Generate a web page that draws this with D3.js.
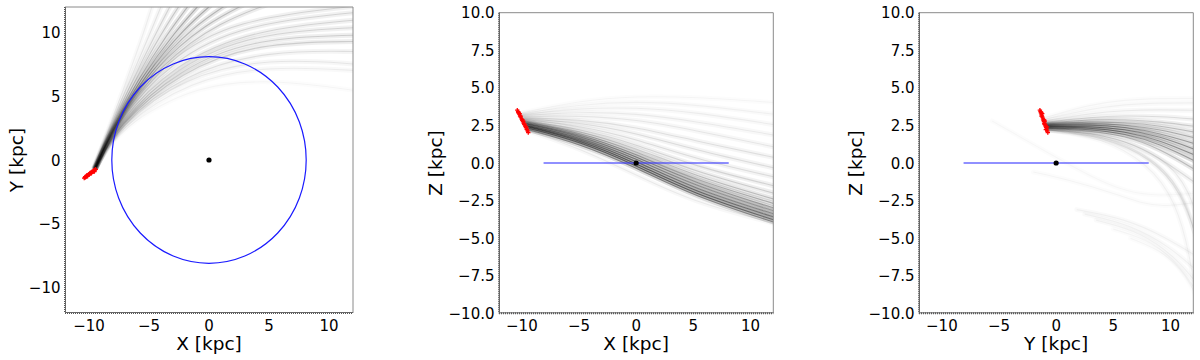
<!DOCTYPE html>
<html>
<head>
<meta charset="utf-8">
<script src="https://cdn.jsdelivr.net/npm/d3@7"></script>
<style>
  body { margin: 0; background: #fff; }
  text { font-family: "DejaVu Sans", sans-serif; fill: #000; }
</style>
</head>
<body>
<div id="content"></div>
<script>
// ---- data ----

// red "+" markers, [x, y, z] kpc
const stars = [
  [-10.40,-1.42,3.52],[-10.33,-1.37,3.42],[-10.28,-1.33,3.33],[-10.22,-1.29,3.25],
  [-10.16,-1.25,3.14],[-10.10,-1.20,3.05],[-10.03,-1.15,2.94],[-9.97,-1.12,2.85],
  [-9.90,-1.07,2.75],[-9.84,-1.02,2.65],[-9.78,-0.98,2.56],[-9.71,-0.93,2.46],
  [-9.64,-0.88,2.36],[-9.57,-0.83,2.25],[-9.50,-0.78,2.14],[-9.44,-0.73,2.03],
  [-10.30,-1.30,3.36],[-10.12,-1.27,3.12],[-9.95,-1.05,2.86],[-9.80,-1.05,2.60],
  [-9.62,-0.80,2.40],[-9.55,-0.90,2.22],[-10.20,-1.22,3.28],[-9.88,-0.99,2.78]
];

// sun circle radius (kpc)
const solarR = 8.1;

// X-Y projection of orbit tracks [x, y]
const xyTracks = [
  [[-9.6,-0.6],[-8.6,1.8],[-7.2,5.4],[-5.6,9.5],[-4.6,12.5]],
  [[-9.6,-0.6],[-8.5,2.0],[-6.9,5.6],[-5.0,9.7],[-3.8,12.5]],
  [[-9.55,-0.6],[-8.4,2.1],[-6.6,5.8],[-4.5,9.8],[-3.0,12.5]],
  [[-9.55,-0.6],[-8.3,2.2],[-6.3,6.0],[-4.0,9.9],[-2.2,12.5]],
  [[-9.5,-0.6],[-8.2,2.3],[-6.0,6.2],[-3.4,10.0],[-1.4,12.5]],
  [[-9.5,-0.6],[-8.1,2.4],[-5.7,6.4],[-2.8,10.1],[-0.5,12.5]],
  [[-9.5,-0.6],[-8.0,2.5],[-5.3,6.7],[-2.1,10.3],[0.6,12.5]],
  [[-9.45,-0.6],[-7.95,2.6],[-4.9,7.0],[-1.3,10.5],[2.0,12.5]],
  [[-9.45,-0.6],[-7.9,2.7],[-4.5,7.3],[-0.3,10.7],[3.6,12.5]],
  [[-9.45,-0.6],[-7.85,2.75],[-4.0,7.6],[1,10.9],[5.5,12.4]],
  [[-9.45,-0.6],[-7.8,2.8],[-3.5,7.9],[2,11.0],[12.5,12.1]],
  [[-9.45,-0.6],[-7.8,2.8],[-3.2,7.8],[3,10.7],[12.5,11.6]],
  [[-9.4,-0.6],[-7.75,2.8],[-2.9,7.6],[4,10.3],[12.5,11.0]],
  [[-9.4,-0.6],[-7.7,2.75],[-2.7,7.4],[4,10.0],[12.5,10.4]],
  [[-9.4,-0.6],[-7.7,2.7],[-2.5,7.2],[4,9.6],[12.5,9.8]],
  [[-9.4,-0.6],[-7.65,2.7],[-2.3,7.0],[4,9.2],[12.5,9.3]],
  [[-9.4,-0.6],[-7.6,2.65],[-2.1,6.8],[5,8.6],[12.5,8.5]],
  [[-9.4,-0.6],[-7.6,2.6],[-2.0,6.6],[5,8.0],[12.5,7.5]],
  [[-9.4,-0.6],[-7.55,2.55],[-1.5,6.3],[5,7.4],[12.5,7.0]],
  [[-9.4,-0.6],[-7.5,2.5],[-1,6.0],[6,6.3],[12.5,5.4]]
];
const xyWeight = [0.5,0.8,1.2,1.6,2.2,2.6,2.6,2.2,2,1.6,1.2,1.2,1.2,1.2,1.4,1.4,0.9,0.7,0.5,0.3];

// X-Z projection [x, z]
const xzTracks = [
  [[-9.35,2.2],[-5,1.3],[0,-0.3],[5,-2.2],[12.5,-4.05]],
  [[-9.4,2.3],[-5,1.45],[0,-0.15],[5,-2.05],[12.5,-3.9]],
  [[-9.45,2.4],[-5,1.55],[0,0],[5,-1.9],[12.5,-3.7]],
  [[-9.5,2.45],[-5,1.65],[0,0.15],[5,-1.7],[12.5,-3.5]],
  [[-9.55,2.5],[-5,1.75],[0,0.3],[5,-1.5],[12.5,-3.3]],
  [[-9.6,2.6],[-5,1.85],[0,0.45],[5,-1.3],[12.5,-3.1]],
  [[-9.65,2.65],[-5,1.95],[0,0.6],[5,-1.1],[12.5,-2.8]],
  [[-9.7,2.7],[-5,2.05],[0,0.8],[5,-0.85],[12.5,-2.5]],
  [[-9.75,2.75],[-5,2.15],[0,1.0],[5,-0.55],[12.5,-2.1]],
  [[-9.8,2.8],[-5,2.3],[0,1.25],[5,-0.2],[12.5,-1.6]],
  [[-9.85,2.9],[-5,2.5],[0,1.6],[5,0.3],[12.5,-1.0]],
  [[-9.9,2.95],[-5,2.7],[0,2.0],[5,0.9],[12.5,-0.4]],
  [[-9.95,3.0],[-5,2.9],[0,2.4],[5,1.5],[12.5,0.3]],
  [[-10.0,3.1],[-5,3.15],[0,2.9],[5,2.2],[12.5,1.0]],
  [[-10.05,3.15],[-5,3.4],[0,3.3],[5,2.8],[12.5,1.8]],
  [[-10.1,3.2],[-5,3.65],[0,3.7],[5,3.4],[12.5,2.5]],
  [[-10.15,3.25],[-5,3.9],[0,4.1],[5,3.9],[12.5,3.2]],
  [[-10.2,3.3],[-5,4.15],[0,4.45],[5,4.4],[12.5,4.0]],
  [[-9.3,2.1],[-5,1.0],[0,-0.8],[5,-2.6],[12.5,-4.1]]
];
const xzWeight = [3,4,4,3.5,3,3,2.5,2,1.5,1.2,1,1,0.9,0.7,0.6,0.5,0.4,0.3,0.6];

// Y-Z projection [y, z]
const yzTracks = [
  [[-0.7,2.2],[3,2.0],[6,1.5],[9,0.4],[12.5,-1.5]],
  [[-0.72,2.3],[3,2.15],[6,1.8],[9,1.0],[12.5,-0.6]],
  [[-0.75,2.35],[3,2.25],[6,1.95],[9,1.3],[12.5,0.0]],
  [[-0.78,2.4],[3,2.35],[6,2.1],[9,1.55],[12.5,0.4]],
  [[-0.8,2.45],[3,2.45],[6,2.25],[9,1.8],[12.5,0.8]],
  [[-0.83,2.5],[3,2.55],[6,2.4],[9,2.0],[12.5,1.2]],
  [[-0.86,2.55],[3,2.65],[6,2.55],[9,2.25],[12.5,1.6]],
  [[-0.9,2.6],[3,2.75],[6,2.7],[9,2.5],[12.5,2.0]],
  [[-0.93,2.65],[3,2.9],[6,2.9],[9,2.75],[12.5,2.4]],
  [[-0.96,2.7],[3,3.05],[6,3.15],[9,3.1],[12.5,2.9]],
  [[-1.0,2.8],[3,3.3],[6,3.5],[9,3.55],[12.5,3.5]],
  [[-1.05,2.9],[3,3.6],[6,3.9],[9,4.0],[12.5,4.0]],
  [[-1.1,3.0],[3,3.9],[6,4.2],[9,4.3],[12.5,4.3]],
  [[-0.7,2.2],[4,1.8],[8.5,0.3],[11,-2.0],[12.3,-5]],
  [[-0.7,2.25],[4,1.9],[9,0.2],[11.5,-2.5],[12.5,-6]],
  [[-0.7,2.3],[4,2.0],[9.5,0.5],[11.8,-2.0],[12.6,-4.5]],
  [[-0.7,2.2],[4,1.7],[8,0],[10.5,-2.5],[11.8,-6.5],[12.2,-9]],
  [[12.5,-2.6],[9.5,-2.9],[7.8,-2.75],[5,-2.0],[1,-1.1],[-2,-0.6]],
  [[12.5,-2.0],[9,-2.2],[6.2,-1.95],[3,-0.9],[-1,0.8],[-5.6,2.8]],
  [[1.8,-3.1],[6,-3.7],[9.5,-4.9],[12.5,-6.3]],
  [[2.5,-3.4],[6.5,-4.1],[10,-5.6],[12.5,-7.3]],
  [[3.5,-3.8],[7.5,-4.6],[10.5,-6.3],[12.5,-8.2]],
  [[5,-4.4],[8.5,-5.2],[11,-7],[12.3,-8.6]],
  [[6.5,-5.0],[9.5,-5.9],[11.5,-7.6],[12.2,-8.8]]
];
const yzWeight = [1,2,3,3.5,3.5,3,2.5,2,1.5,1,0.6,0.4,0.3,0.8,0.6,0.6,0.4,0.3,0.25,0.4,0.4,0.4,0.3,0.3];

const ticksXY = [-10,-5,0,5,10];
const ticksZ = [-10,-7.5,-5,-2.5,0,2.5,5,7.5,10];

// ---- panels ----
const panels = [
  {id:"xy", left:65, top:7, w:288, h:306, yDom:[-12,12], yTicks:ticksXY, yFmt:d3.format("d"),
   xLab:"X [kpc]", yLab:"Y [kpc]", labX:23, tracks:xyTracks, weight:xyWeight, proj:s=>[s[0],s[1]], disk:"circle"},
  {id:"xz", left:499, top:12.7, w:274.3, h:300.6, yDom:[-10,10], yTicks:ticksZ, yFmt:d3.format(".1f"),
   xLab:"X [kpc]", yLab:"Z [kpc]", labX:442, tracks:xzTracks, weight:xzWeight, proj:s=>[s[0],s[2]], disk:"line"},
  {id:"yz", left:919, top:12.7, w:274.3, h:300.6, yDom:[-10,10], yTicks:ticksZ, yFmt:d3.format(".1f"),
   xLab:"Y [kpc]", yLab:"Z [kpc]", labX:862, tracks:yzTracks, weight:yzWeight, proj:s=>[s[1],s[2]], disk:"line"}
];

const svg = d3.select("#content").append("svg")
  .attr("width", 1200).attr("height", 360);

const defs = svg.append("defs");

panels.forEach(p=>{
  let x = d3.scaleLinear().domain([-12,12]).range([p.left, p.left+p.w]);
  let y = d3.scaleLinear().domain(p.yDom).range([p.top+p.h, p.top]);

  defs.append("clipPath").attr("id","clip-"+p.id)
    .append("rect").attr("x",p.left).attr("y",p.top).attr("width",p.w).attr("height",p.h);

  let g = svg.append("g");
  let plot = g.append("g").attr("clip-path",`url(#clip-${p.id})`);

  let line = d3.line().x(d=>x(d[0])).y(d=>y(d[1])).curve(d3.curveBasis);

  // wide soft halo, then thin core line per orbit track
  plot.selectAll("path.halo")
    .data(p.tracks)
    .enter().append("path")
    .attr("class","halo")
    .attr("d", line)
    .attr("fill","none")
    .attr("stroke","#000")
    .attr("stroke-width",5)
    .attr("stroke-linecap","round")
    .attr("stroke-opacity",(d,i)=>Math.min(0.045*p.weight[i],0.2));

  plot.selectAll("path.orbit")
    .data(p.tracks)
    .enter().append("path")
    .attr("class","orbit")
    .attr("d", line)
    .attr("fill","none")
    .attr("stroke","#000")
    .attr("stroke-width",1.1)
    .attr("stroke-opacity",(d,i)=>Math.min(0.1*p.weight[i],0.5));

  // disk
  if(p.disk=="circle"){
    plot.append("ellipse")
      .attr("cx",x(0)).attr("cy",y(0))
      .attr("rx",x(solarR)-x(0)).attr("ry",y(0)-y(solarR))
      .attr("fill","none").attr("stroke","#1a1aff").attr("stroke-width",1.2);
  } else {
    plot.append("line")
      .attr("x1",x(-solarR)).attr("x2",x(solarR))
      .attr("y1",y(0)).attr("y2",y(0))
      .attr("stroke","#3a3aff").attr("stroke-opacity",0.75).attr("stroke-width",1.6);
  }
  plot.append("circle").attr("cx",x(0)).attr("cy",y(0)).attr("r",2.6).attr("fill","#000");

  // red stars
  plot.selectAll("path.star")
    .data(stars)
    .enter().append("path")
    .attr("class","star")
    .attr("transform",d=>{let q=p.proj(d);return `translate(${x(q[0])},${y(q[1])})`;})
    .attr("d","M-2.2,0H2.2M0,-2.2V2.2")
    .attr("stroke","#ff0000")
    .attr("stroke-width",1.3);

  // spines
  g.append("line").attr("x1",p.left).attr("x2",p.left+p.w).attr("y1",p.top).attr("y2",p.top)
    .attr("stroke","#8a8a8a").attr("stroke-width",1);
  g.append("line").attr("x1",p.left+p.w).attr("x2",p.left+p.w).attr("y1",p.top).attr("y2",p.top+p.h)
    .attr("stroke","#8a8a8a").attr("stroke-width",1);
  g.append("line").attr("x1",p.left).attr("x2",p.left+p.w).attr("y1",p.top+p.h).attr("y2",p.top+p.h)
    .attr("stroke","#555").attr("stroke-width",2).attr("stroke-dasharray","1,1");
  g.append("line").attr("x1",p.left).attr("x2",p.left).attr("y1",p.top).attr("y2",p.top+p.h)
    .attr("stroke","#555").attr("stroke-width",2).attr("stroke-dasharray","1,1");
  g.append("line").attr("x1",p.left).attr("x2",p.left+p.w).attr("y1",p.top+p.h-0.5).attr("y2",p.top+p.h-0.5)
    .attr("stroke","#666").attr("stroke-width",1);
  g.append("line").attr("x1",p.left+0.5).attr("x2",p.left+0.5).attr("y1",p.top).attr("y2",p.top+p.h)
    .attr("stroke","#666").attr("stroke-width",1);

  // tick labels
  g.selectAll("text.xt")
    .data(ticksXY)
    .enter().append("text")
    .attr("x",d=>x(d)).attr("y",p.top+p.h+17.5)
    .attr("text-anchor","middle")
    .style("font-size","15px")
    .text(d3.format("d"));

  g.selectAll("text.yt")
    .data(p.yTicks)
    .enter().append("text")
    .attr("x",p.left-4.5).attr("y",d=>y(d)+5.5)
    .attr("text-anchor","end")
    .style("font-size","15px")
    .text(p.yFmt);

  // axis labels
  g.append("text")
    .attr("x",x(0)).attr("y",350)
    .attr("text-anchor","middle")
    .style("font-size","18.5px")
    .text(p.xLab);

  g.append("text")
    .attr("transform",`translate(${p.labX},${y(0)}) rotate(-90)`)
    .attr("text-anchor","middle")
    .style("font-size","18.5px")
    .text(p.yLab);
});
</script>
</body>
</html>
